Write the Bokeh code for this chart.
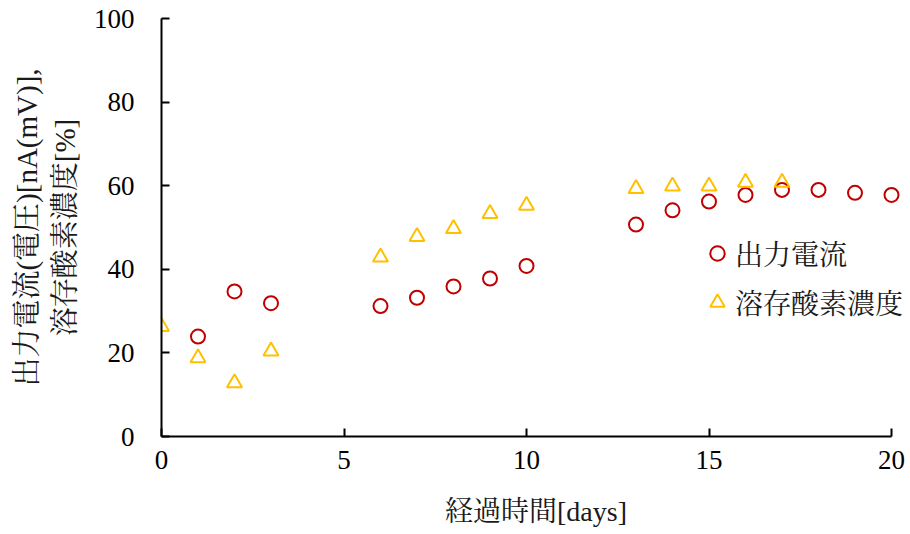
from bokeh.plotting import figure
from bokeh.models import Range1d, FixedTicker, Legend, LegendItem
from bokeh.embed import file_html
from bokeh.resources import INLINE

# Data
days_current = [1, 2, 3, 6, 7, 8, 9, 10, 13, 14, 15, 16, 17, 18, 19, 20]
output_current = [23.9, 34.7, 31.9, 31.2, 33.2, 35.9, 37.8, 40.8, 50.7, 54.1, 56.2, 57.8, 59.0, 59.0, 58.3, 57.8]
days_do = [0, 1, 2, 3, 6, 7, 8, 9, 10, 13, 14, 15, 16, 17]
dissolved_oxygen = [26.3, 18.8, 12.8, 20.4, 42.9, 47.8, 49.7, 53.3, 55.3, 59.3, 59.9, 59.9, 60.8, 60.8]
x_ticks = [0, 5, 10, 15, 20]
y_ticks = [0, 20, 40, 60, 80, 100]
series_names = ["出力電流", "溶存酸素濃度"]
x_title = "経過時間[days]"
y_title = "出力電流(電圧)[nA(mV)],\n溶存酸素濃度[%]"

FONT = "Liberation Serif, 'Times New Roman', 'Noto Serif CJK JP', 'Noto Sans CJK JP', serif"

# frame extends to the right edge so the legend is not clipped; the axis line stops at 20
x_end = x_ticks[-1] * 749 / 730

p = figure(width=910, height=534, output_backend="svg", toolbar_location=None,
           x_range=Range1d(x_ticks[0], x_end), y_range=Range1d(y_ticks[0], y_ticks[-1]),
           min_border_left=161, min_border_right=0, min_border_top=18, min_border_bottom=98)
p.outline_line_color = None
p.grid.visible = False
p.background_fill_color = "white"
p.border_fill_color = "white"

for ax in (p.xaxis[0], p.yaxis[0]):
    ax.axis_line_color = "black"
    ax.axis_line_width = 2
    ax.major_tick_line_color = "black"
    ax.major_tick_line_width = 2
    ax.major_tick_in = 8
    ax.major_tick_out = 0
    ax.minor_tick_line_color = None
    ax.major_label_text_font = FONT
    ax.major_label_text_font_size = "27px"
    ax.major_label_text_color = "black"
    ax.axis_label_text_font = FONT
    ax.axis_label_text_font_style = "normal"
    ax.axis_label_text_color = "#1a1a1a"

p.xaxis[0].ticker = FixedTicker(ticks=x_ticks)
p.xaxis[0].bounds = (x_ticks[0], x_ticks[-1])
p.yaxis[0].ticker = FixedTicker(ticks=y_ticks)
p.xaxis[0].major_label_standoff = 14
p.yaxis[0].major_label_standoff = 27
p.xaxis[0].axis_label = x_title
p.xaxis[0].axis_label_text_font_size = "28px"
p.xaxis[0].axis_label_standoff = 24
p.yaxis[0].axis_label = y_title
p.yaxis[0].axis_label_text_font_size = "29px"
p.yaxis[0].axis_label_standoff = 10

r1 = p.scatter(days_current, output_current, marker="circle", size=14,
               fill_color=None, line_color="#C00000", line_width=2)
r2 = p.scatter(days_do, dissolved_oxygen, marker="triangle", size=15,
               fill_color=None, line_color="#FFC000", line_width=2)

legend = Legend(items=[LegendItem(label=series_names[0], renderers=[r1]),
                       LegendItem(label=series_names[1], renderers=[r2])],
                location=(538, 114))
legend.label_text_font = FONT
legend.label_text_font_size = "28px"
legend.label_text_color = "#1a1a1a"
legend.background_fill_alpha = 0
legend.border_line_color = None
legend.padding = 0
legend.margin = 0
legend.spacing = 9
legend.label_height = 40
legend.glyph_height = 40
legend.glyph_width = 36
legend.label_standoff = 0
p.add_layout(legend)

open("out.html", "w").write(file_html(p, INLINE))
